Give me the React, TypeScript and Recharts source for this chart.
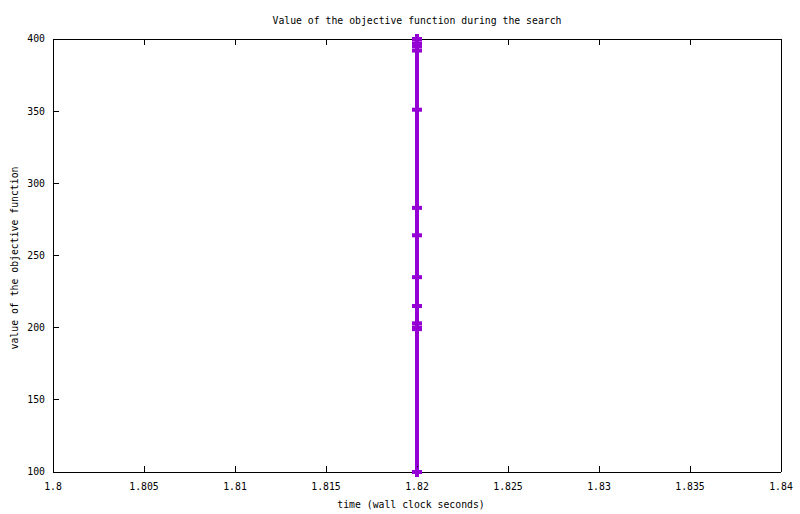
import React from 'react';
import { LineChart, Line, XAxis, YAxis } from 'recharts';

const times = [1.82, 1.82, 1.82, 1.82, 1.82, 1.82, 1.82, 1.82, 1.82, 1.82, 1.82, 1.82, 1.82];
const objectiveValues = [400, 397, 395, 392, 351, 283, 264, 235, 215, 203, 200, 199, 100];
const xTicks = [1.8, 1.805, 1.81, 1.815, 1.82, 1.825, 1.83, 1.835, 1.84];
const yTicks = [100, 150, 200, 250, 300, 350, 400];

const TITLE = 'Value of the objective function during the search';
const X_LABEL = 'time (wall clock seconds)';
const Y_LABEL = 'value of the objective function';

const COLOR = '#9400d3';
const FONT = '"DejaVu Sans Mono", "Liberation Mono", monospace';
const FS = 9.8;

const data = objectiveValues.map((v, i) => ({ time: times[i], value: v }));

const PlusDot = (props: any) => {
  const { cx, cy, index } = props;
  if (cx == null || cy == null) return <g key={`dot-${index}`} />;
  return (
    <g key={`dot-${index}`}>
      <rect x={cx - 5} y={cy - 2} width={10} height={4} fill={COLOR} />
      <rect x={cx - 2} y={cy - 5} width={4} height={10} fill={COLOR} />
    </g>
  );
};

const fmtX = (v: number) => String(Number(v.toFixed(3)));
const axisLine = { stroke: '#000', strokeWidth: 1, shapeRendering: 'crispEdges' } as any;
const tickLine = { stroke: '#000', strokeWidth: 1, shapeRendering: 'crispEdges' } as any;
const tickStyle = { fontFamily: FONT, fontSize: FS, fill: '#000' };

export default function App() {
  return (
    <div style={{ position: 'absolute', left: 0, top: 0, width: 800, height: 514, background: '#fff' }}>
      <LineChart
        width={800}
        height={514}
        data={data}
        margin={{ top: 9, right: 9, bottom: 12, left: 8 }}
      >
        <XAxis
          xAxisId="bottom"
          dataKey="time"
          type="number"
          domain={[1.8, 1.84]}
          ticks={xTicks}
          tickFormatter={fmtX}
          height={30}
          tickSize={-6}
          tickMargin={17}
          axisLine={axisLine}
          tickLine={tickLine}
          tick={tickStyle}
        />
        <XAxis
          xAxisId="top"
          orientation="top"
          dataKey="time"
          type="number"
          domain={[1.8, 1.84]}
          ticks={xTicks}
          tickFormatter={() => ''}
          height={30}
          tickSize={-6}
          tickMargin={0}
          axisLine={axisLine}
          tickLine={tickLine}
          tick={tickStyle}
        />
        <YAxis
          yAxisId="left"
          type="number"
          domain={[100, 400]}
          ticks={yTicks}
          width={45}
          tickSize={-6}
          tickMargin={14}
          axisLine={axisLine}
          tickLine={tickLine}
          tick={tickStyle}
        />
        <YAxis
          yAxisId="right"
          orientation="right"
          type="number"
          domain={[100, 400]}
          ticks={yTicks}
          tickFormatter={() => ''}
          width={10}
          tickSize={-6}
          tickMargin={0}
          axisLine={axisLine}
          tickLine={tickLine}
          tick={tickStyle}
        />
        <Line
          xAxisId="bottom"
          yAxisId="left"
          dataKey="value"
          stroke={COLOR}
          strokeWidth={4}
          dot={PlusDot}
          activeDot={false}
          isAnimationActive={false}
          type="linear"
        />
      </LineChart>
      <svg
        width={800}
        height={514}
        style={{ position: 'absolute', left: 0, top: 0, pointerEvents: 'none' }}
      >
        <text x={417} y={23.5} textAnchor="middle" fontFamily={FONT} fontSize={FS} fill="#000">
          {TITLE}
        </text>
        <text x={411} y={508} textAnchor="middle" fontFamily={FONT} fontSize={FS} fill="#000">
          {X_LABEL}
        </text>
        <text
          x={0}
          y={0}
          transform="translate(18,258) rotate(-90)"
          textAnchor="middle"
          fontFamily={FONT}
          fontSize={FS}
          fill="#000"
        >
          {Y_LABEL}
        </text>
      </svg>
    </div>
  );
}
